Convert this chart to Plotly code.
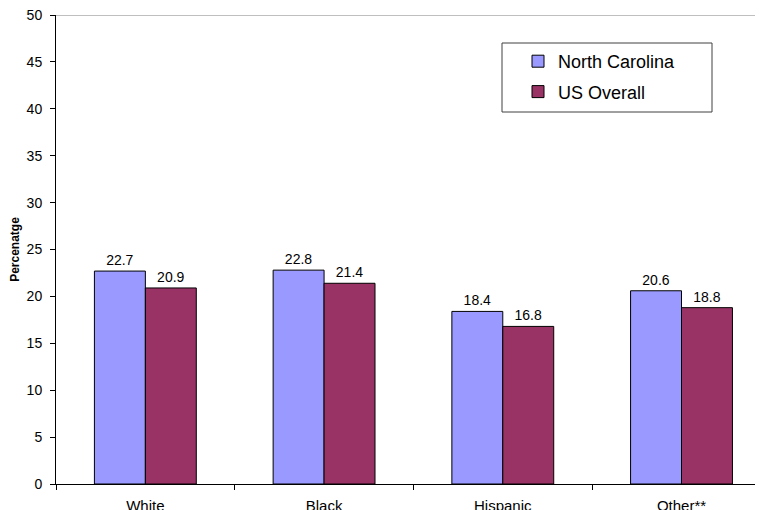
import plotly.graph_objects as go

categories = ["White", "Black", "Hispanic", "Other**"]
nc_values = [22.7, 22.8, 18.4, 20.6]
us_values = [20.9, 21.4, 16.8, 18.8]
y_ticks = [0, 5, 10, 15, 20, 25, 30, 35, 40, 45, 50]

font_family = "Liberation Sans, Arial, sans-serif"

# page body has an 8px offset; margins compensate so the plot area sits
# at page x 56..763, y 15..484
L, T, B, R = 48, 7, 34, 8
W, H = 763, 510
PW = W - L - R
PH = H - T - B


def px_to_paper_x(px):
    return (px - 8 - L) / PW


def px_to_paper_y(py):
    return (H - B - (py - 8)) / PH


fig = go.Figure()
fig.add_trace(go.Bar(
    x=categories, y=nc_values, name="North Carolina", legendgroup="nc",
    marker=dict(color="#9999FF", line=dict(color="#000000", width=1)),
    text=[f"{v:.1f}" for v in nc_values], textposition="outside",
    textfont=dict(size=14, color="#000000", family=font_family),
    cliponaxis=False,
))
fig.add_trace(go.Bar(
    x=categories, y=us_values, name="US Overall", legendgroup="us",
    marker=dict(color="#993366", line=dict(color="#000000", width=1)),
    text=[f"{v:.1f}" for v in us_values], textposition="outside",
    textfont=dict(size=14, color="#000000", family=font_family),
    cliponaxis=False,
))

fig.update_layout(
    width=W, height=H,
    margin=dict(l=L, r=R, t=T, b=B, autoexpand=False),
    paper_bgcolor="white", plot_bgcolor="white",
    barmode="group", bargap=0.43, bargroupgap=0,
    font=dict(family=font_family, color="#000000", size=14),
    showlegend=True,
    legend=dict(
        x=px_to_paper_x(518), y=px_to_paper_y(43), xanchor="left", yanchor="top",
        borderwidth=0, bgcolor="rgba(0,0,0,0)",
        font=dict(size=18, family=font_family),
        itemwidth=30, tracegroupgap=4,
    ),
)
fig.update_xaxes(
    type="category", categoryorder="array", categoryarray=categories,
    range=[-0.5, 3.456], automargin=False,
    showline=True, linecolor="#000000", linewidth=1,
    ticks="outside", tickson="boundaries", ticklen=5, tickcolor="#000000",
    showgrid=False, tickfont=dict(size=15), zeroline=False,
    ticklabelstandoff=8, ticklabeloverflow="allow",
)
fig.update_yaxes(
    range=[0, 50], tickvals=y_ticks, automargin=False,
    showline=True, linecolor="#000000", linewidth=1,
    ticks="outside", ticklen=5, tickcolor="#000000",
    showgrid=False, zeroline=False, tickfont=dict(size=14),
    ticklabelstandoff=5, ticklabeloverflow="allow",
    title=dict(text="<b>Percenatge</b>", font=dict(size=12), standoff=12),
)
fig.add_shape(type="line", xref="paper", yref="y", x0=0, x1=1, y0=50, y1=50,
              line=dict(color="#808080", width=1))
# legend frame
fig.add_shape(type="rect", xref="paper", yref="paper",
              x0=px_to_paper_x(502), x1=px_to_paper_x(712),
              y0=px_to_paper_y(112), y1=px_to_paper_y(43),
              line=dict(color="#404040", width=1), fillcolor="white", layer="below")

fig.write_html("out.html")
